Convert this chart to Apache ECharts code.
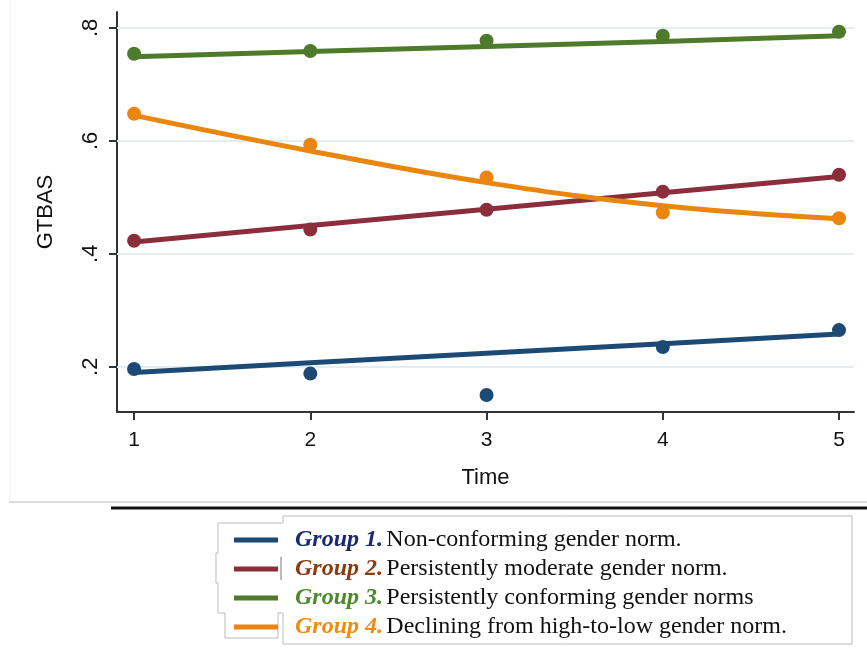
<!DOCTYPE html>
<html>
<head>
<meta charset="utf-8">
<script src="https://cdn.jsdelivr.net/npm/echarts@6/dist/echarts.min.js"></script>
<style>
  html, body { margin: 0; padding: 0; background: #fff; }
  #chart { width: 867px; height: 651px; }
</style>
</head>
<body>
<div id="chart"></div>
<script>
// time points and y ticks
let timePoints = [1, 2, 3, 4, 5];
let yTicks = [0.2, 0.4, 0.6, 0.8];

// observed means (dots) per group
let g1Obs = [0.196, 0.188, 0.150, 0.235, 0.265];
let g2Obs = [0.423, 0.443, 0.478, 0.510, 0.540];
let g3Obs = [0.754, 0.759, 0.777, 0.786, 0.793];
let g4Obs = [0.648, 0.593, 0.535, 0.473, 0.463];

// fitted trajectories (lines) per group
let g1Fit = [0.190, 0.207, 0.224, 0.241, 0.258];
let g2Fit = [0.421, 0.450, 0.479, 0.508, 0.537];
let g3Fit = [0.749, 0.758, 0.767, 0.776, 0.786];
let g4Fit = [0.645, 0.582, 0.526, 0.485, 0.462];

let groupNames = ["Group 1.", "Group 2.", "Group 3.", "Group 4."];
let groupDescs = [
  "Non-conforming gender norm.",
  "Persistently moderate gender norm.",
  "Persistently conforming gender norms",
  "Declining from high-to-low gender norm."
];

let lineColors = ["#1c4a74", "#8c2d3b", "#4e7a2c", "#ea8510"];
let labelColors = ["#1a2a6c", "#8b3a12", "#4a8a2a", "#f08a10"];

let obsAll = [g1Obs, g2Obs, g3Obs, g4Obs];
let fitAll = [g1Fit, g2Fit, g3Fit, g4Fit];

function pairs(values) {
  return timePoints.map(function (t, i) { return [t, values[i]]; });
}

let series = [];
for (let i = 0; i < 4; i++) {
  series.push({
    name: groupNames[i],
    type: "line",
    data: pairs(fitAll[i]),
    smooth: i === 3 ? 0.4 : false,
    showSymbol: false,
    symbol: "none",
    lineStyle: { color: lineColors[i], width: 5 },
    itemStyle: { color: lineColors[i] },
    z: 3
  });
  series.push({
    name: groupNames[i],
    type: "scatter",
    data: pairs(obsAll[i]),
    symbolSize: 14,
    itemStyle: { color: lineColors[i], opacity: 1 },
    z: 4
  });
}

// light horizontal gridlines at the y ticks
series[1].markLine = {
  silent: true,
  symbol: "none",
  label: { show: false },
  lineStyle: { color: "#e4eef2", width: 2, type: "solid" },
  data: yTicks.map(function (v) { return { yAxis: v }; }),
  z: 1
};

let rich = {
  t: { fontFamily: "Liberation Serif", fontSize: 24, color: "#111" }
};
for (let i = 0; i < 4; i++) {
  rich["g" + i] = {
    fontFamily: "Liberation Serif",
    fontSize: 24,
    fontWeight: "bold",
    fontStyle: "italic",
    color: labelColors[i],
    padding: [0, 0, 0, 12]
  };
}

let myChart = echarts.init(document.getElementById("chart"));
let option = {
  backgroundColor: "#fff",
  animation: false,
  grid: { left: 117, right: 13, top: 12, bottom: 239 },
  xAxis: {
    type: "value",
    min: 0.903,
    max: 5.085,
    name: "Time",
    nameLocation: "middle",
    nameGap: 55,
    nameTextStyle: { fontFamily: "Liberation Sans", fontSize: 22, color: "#111" },
    axisLine: { lineStyle: { color: "#333", width: 2 } },
    axisTick: { customValues: timePoints, length: 8, lineStyle: { color: "#333", width: 2 } },
    axisLabel: {
      customValues: timePoints,
      margin: 18,
      fontFamily: "Liberation Sans",
      fontSize: 21,
      color: "#111"
    },
    splitLine: { show: false }
  },
  yAxis: {
    type: "value",
    min: 0.12,
    max: 0.828,
    name: "GTBAS",
    nameLocation: "middle",
    nameGap: 60,
    nameTextStyle: { fontFamily: "Liberation Sans", fontSize: 22, color: "#111" },
    axisLine: { show: true, lineStyle: { color: "#333", width: 2 } },
    axisTick: { show: true, customValues: yTicks, length: 8, lineStyle: { color: "#333", width: 2 } },
    axisLabel: {
      customValues: yTicks,
      rotate: 90,
      margin: 15,
      fontFamily: "Liberation Sans",
      fontSize: 22,
      color: "#111",
      formatter: function (v) { return String(v).replace(/^0/, ""); }
    },
    splitLine: { show: false }
  },
  legend: {
    orient: "vertical",
    left: 229,
    top: 523,
    icon: "rect",
    itemWidth: 44,
    itemHeight: 5,
    itemGap: 5,
    selectedMode: false,
    data: groupNames.map(function (n, i) {
      return { name: n, itemStyle: { color: lineColors[i] } };
    }),
    formatter: function (name) {
      let i = groupNames.indexOf(name);
      return "{g" + i + "|" + name + "} {t|" + groupDescs[i] + "}";
    },
    textStyle: { rich: rich, lineHeight: 24 }
  },
  graphic: [
    { type: "line", shape: { x1: 10, y1: 0, x2: 10, y2: 502 }, style: { stroke: "#f0f0f0", lineWidth: 1 } },
    { type: "line", shape: { x1: 9, y1: 502, x2: 867, y2: 502 }, style: { stroke: "#bdbdbd", lineWidth: 1 } },
    { type: "line", shape: { x1: 111, y1: 508, x2: 867, y2: 508 }, style: { stroke: "#111", lineWidth: 3 } },
    {
      type: "polyline",
      shape: { points: [[283, 613], [283, 644], [852, 644], [852, 516], [283, 516], [283, 523],
        [218, 523], [218, 553], [216, 553], [216, 583], [218, 583], [218, 613], [225, 613],
        [225, 638], [278, 638], [278, 613], [283, 613]] },
      style: { stroke: "#bbb", lineWidth: 1, fill: null },
      z: -1
    },
    { type: "line", shape: { x1: 281, y1: 557, x2: 281, y2: 580 }, style: { stroke: "#bbb", lineWidth: 2 } }
  ],
  series: series
};
myChart.setOption(option);
</script>
</body>
</html>
